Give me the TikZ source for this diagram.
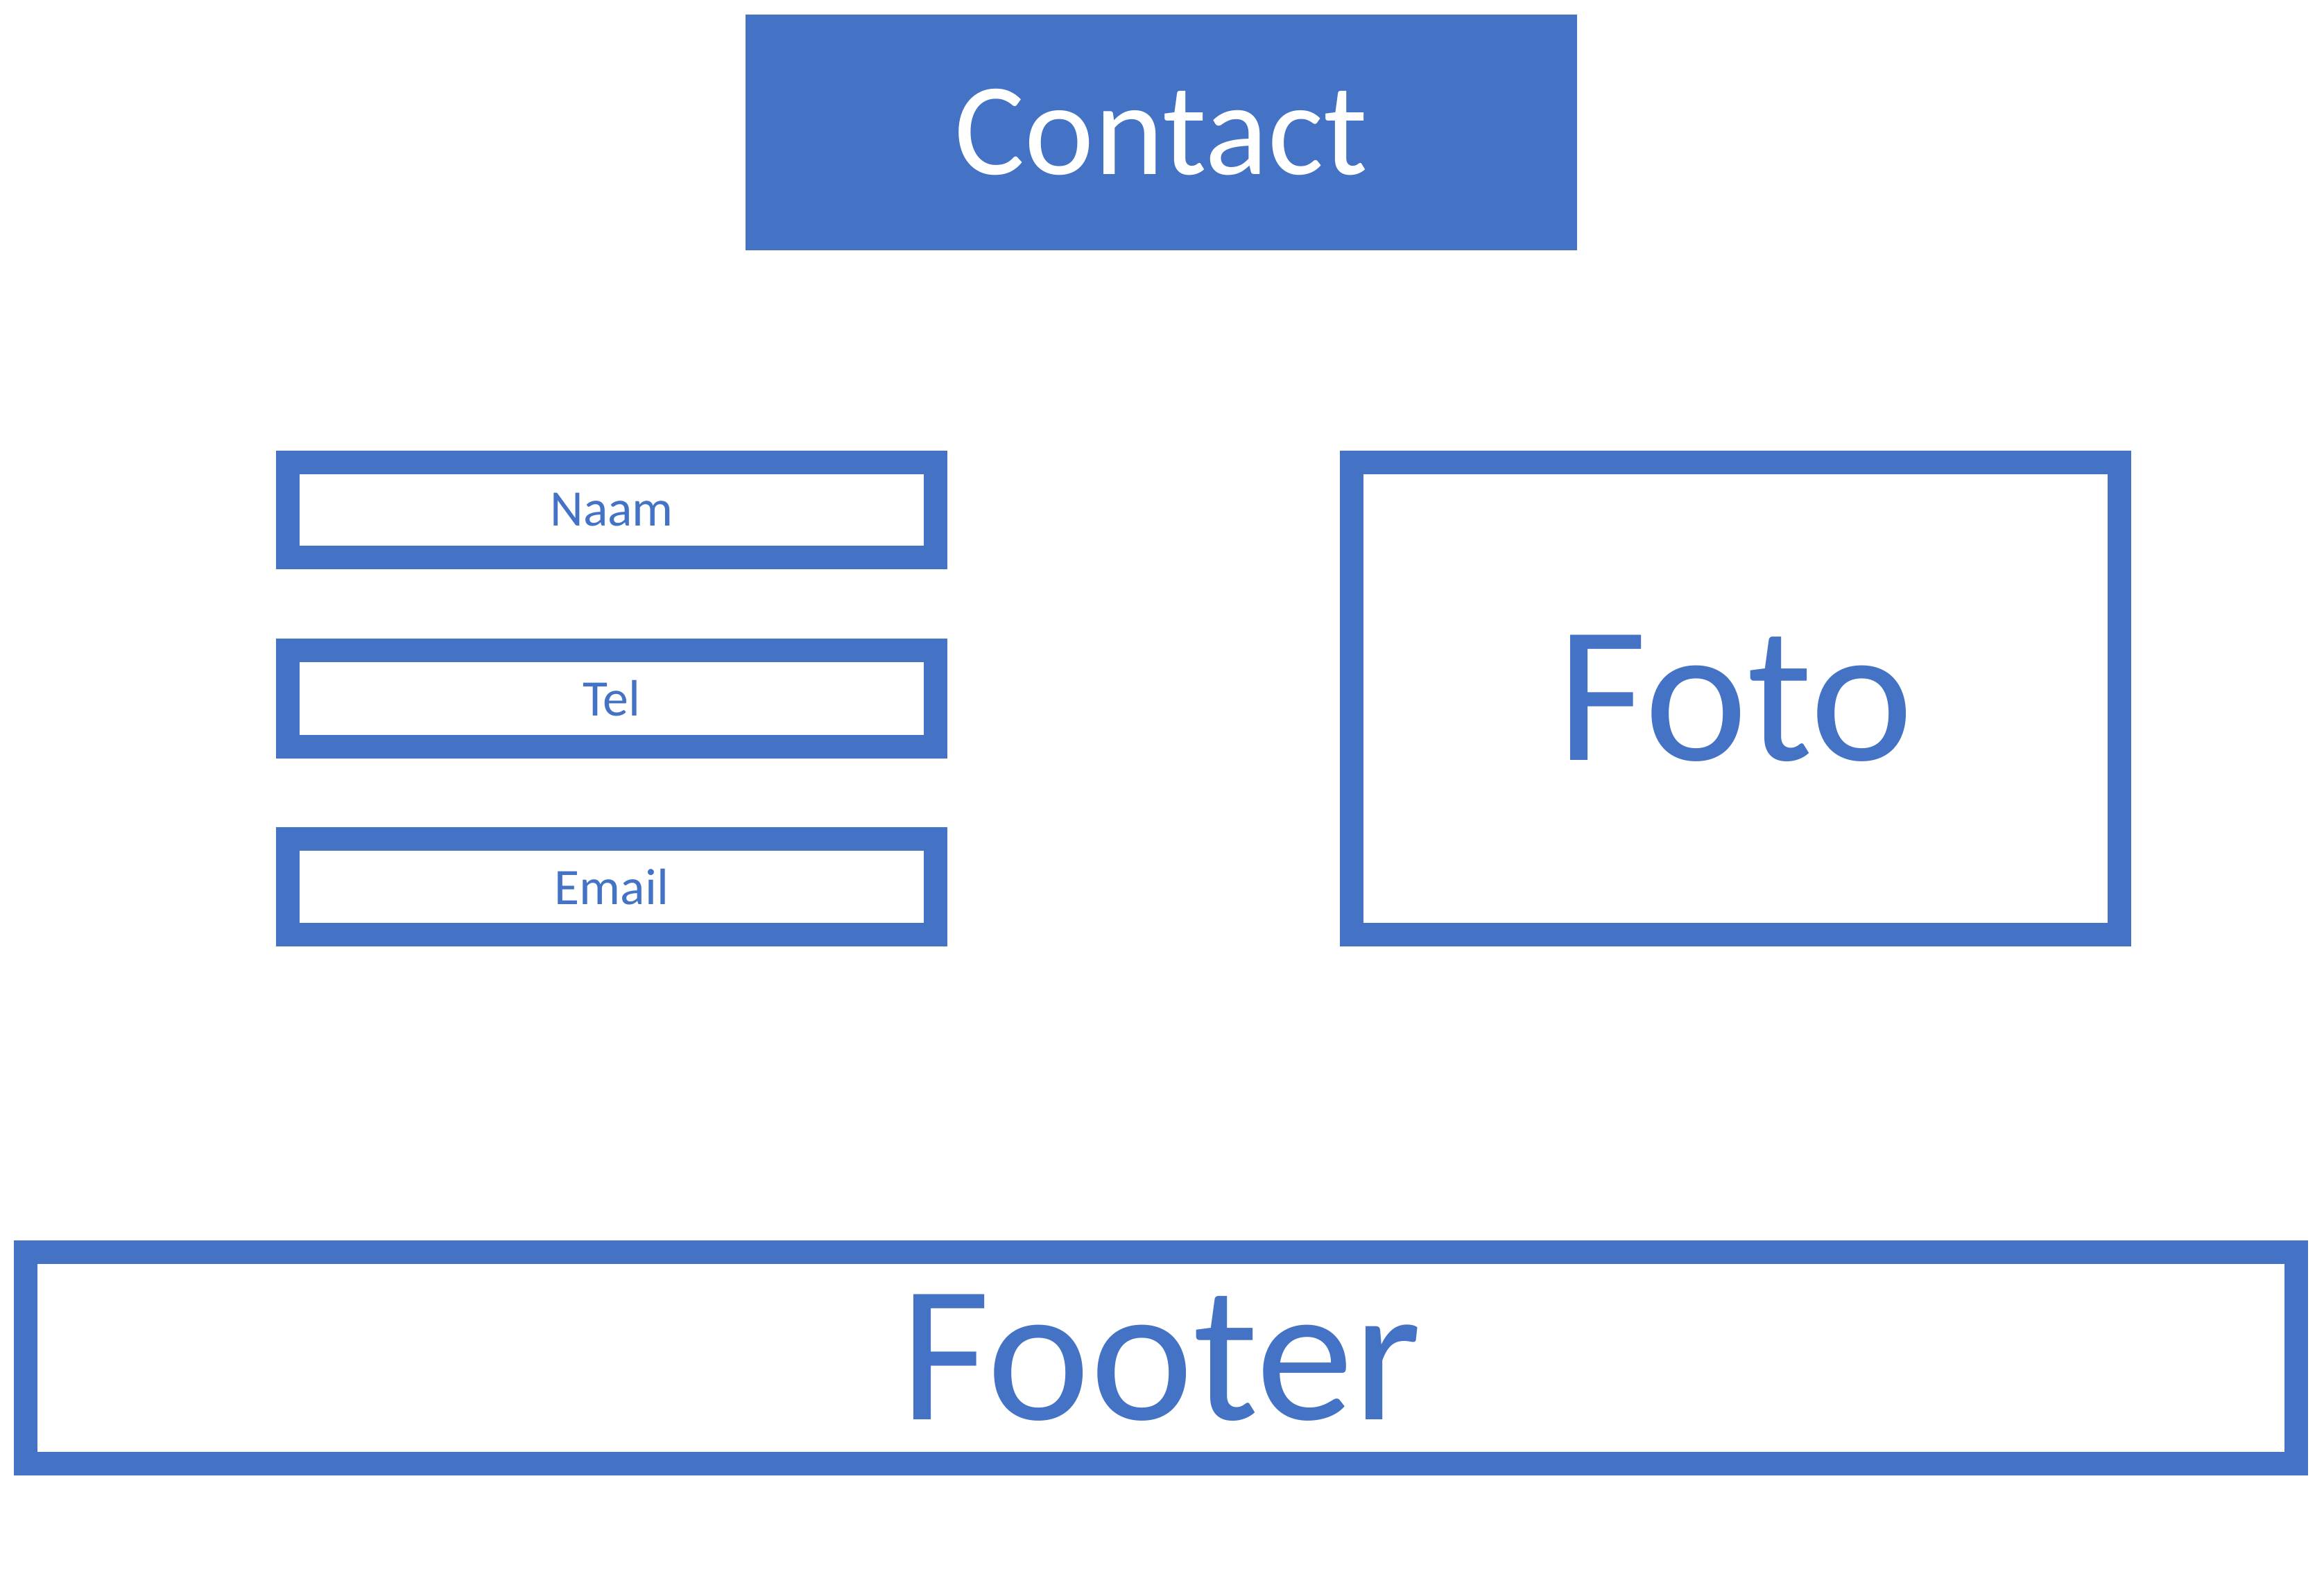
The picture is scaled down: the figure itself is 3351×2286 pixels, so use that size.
\documentclass[tikz,border=0pt]{standalone}
\usepackage{fontspec}
\setmainfont{Carlito}
\definecolor{officeblue}{HTML}{4472C4}
\tikzset{
  field/.style={draw=officeblue, line width=0.34cm, text=officeblue, inner sep=0pt,
    minimum width=9.34cm, font=\fontsize{21}{24}\selectfont},
  bigbox/.style={draw=officeblue, line width=0.34cm, text=officeblue, inner sep=0pt,
    font=\fontsize{80}{88}\selectfont}
}
\begin{document}
\begin{tikzpicture}[x=0.01cm, y=-0.01cm]
    \useasboundingbox (0,0) rectangle (3351,2286);

    % header
    \node[fill=officeblue, text=white, inner sep=0pt, minimum width=11.99cm,
      minimum height=3.40cm, font=\fontsize{54}{60}\selectfont] (contact) at (1674.5,191) {Contact};

    % form fields
    \node[field, minimum height=1.37cm] (naam) at (882,735.5) {Naam};
    \node[field, minimum height=1.39cm] (tel) at (882,1007.5) {Tel};
    \node[field, minimum height=1.38cm] (email) at (882,1279) {Email};

    % photo
    \node[bigbox, minimum width=11.07cm, minimum height=6.81cm] (foto) at (2502.5,1007.5) {Foto};

    % footer
    \node[bigbox, minimum width=32.72cm, minimum height=3.05cm] (footer) at (1674,1958.5) {Footer};
\end{tikzpicture}
\end{document}
